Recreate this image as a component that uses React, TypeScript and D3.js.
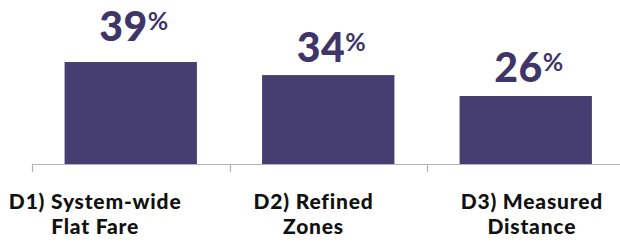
import React, { useEffect, useRef } from "react";
import * as d3 from "d3";

const categories = ["D1", "D2", "D3"];
const labelLine1 = ["D1) System-wide", "D2) Refined", "D3) Measured"];
const labelLine2 = ["Flat Fare", "Zones", "Distance"];
const values = [39, 34, 26];

const WIDTH = 620;
const HEIGHT = 244;
const BASE = 164;
const BAR = "#463e70";

export default function App() {
  const ref = useRef<SVGSVGElement>(null);

  useEffect(() => {
    const svg = d3.select(ref.current);
    svg.selectAll("*").remove();

    const x = d3.scaleBand().domain(categories).range([32, 624.5]).paddingInner(0.33).paddingOuter(0.165);
    const y = d3.scaleLinear().domain([0, 50]).range([BASE, BASE - 50 * 2.615]);
    // the category labels sit on a wider grid than the bars
    const lx = d3.scaleBand().domain(categories).range([-14, 641]);

    const data = categories.map((c, i) => ({ c, v: values[i], l1: labelLine1[i], l2: labelLine2[i], i }));

    // axis line + ticks between bands
    svg.append("line")
      .attr("x1", 32).attr("x2", WIDTH)
      .attr("y1", BASE + 0.5).attr("y2", BASE + 0.5)
      .attr("stroke", "#b3b3b3").attr("stroke-width", 1.2);

    const half = (x.step() * x.paddingInner()) / 2;
    const bounds = categories.map((c) => (x(c) as number) - half);
    svg.selectAll("line.tick").data(bounds).enter().append("line")
      .attr("class", "tick")
      .attr("x1", (d) => Math.round(d) + 0.5).attr("x2", (d) => Math.round(d) + 0.5)
      .attr("y1", BASE).attr("y2", BASE + 8)
      .attr("stroke", "#b3b3b3").attr("stroke-width", 1.2);

    svg.selectAll("rect.bar").data(data).enter().append("rect")
      .attr("class", "bar")
      .attr("x", (d) => x(d.c) as number)
      .attr("width", x.bandwidth())
      .attr("y", (d) => y(d.v))
      .attr("height", (d) => BASE - y(d.v))
      .attr("fill", BAR);

    const gap = [21, 13, 14];
    const vt = svg.selectAll("text.val").data(data).enter().append("text")
      .attr("class", "val")
      .attr("x", (d) => (x(d.c) as number) + x.bandwidth() / 2 + 3)
      .attr("y", (d) => y(d.v) - gap[d.i])
      .attr("text-anchor", "middle")
      .attr("fill", "#3f3569")
      .style("font-family", "Lato, sans-serif")
      .style("font-weight", 900);
    vt.append("tspan").attr("font-size", 41).style("letter-spacing", "0.5px").text((d) => String(d.v));
    vt.append("tspan").attr("font-size", 25).style("font-weight", 700).attr("dx", 0).attr("dy", -11).text("%");

    const ct = svg.selectAll("text.cat").data(data).enter().append("text")
      .attr("class", "cat")
      .attr("text-anchor", "middle")
      .attr("fill", "#111")
      .style("font-family", "Lato, sans-serif")
      .style("font-weight", 900)
      .style("letter-spacing", "0.8px")
      .attr("font-size", 21);
    ct.append("tspan")
      .attr("x", (d) => (lx(d.c) as number) + lx.bandwidth() / 2)
      .attr("y", 209).text((d) => d.l1);
    ct.append("tspan")
      .attr("x", (d) => (lx(d.c) as number) + lx.bandwidth() / 2)
      .attr("y", 234).text((d) => d.l2);
  }, []);

  return (
    <svg ref={ref} width={WIDTH} height={HEIGHT}
      style={{ position: "absolute", left: 0, top: 0, background: "#fff" }} />
  );
}
